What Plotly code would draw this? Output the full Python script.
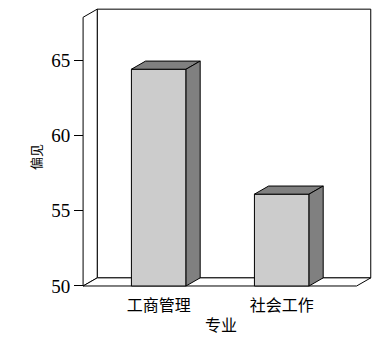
import plotly.graph_objects as go

categories = ["工商管理", "社会工作"]
values = [64.4, 56.1]
y_ticks = [50, 55, 60, 65]
y_title = "偏见"
x_title = "专业"

# 3D styling parameters (in data units)
base = 50.0
wall_top = 67.85
dx = 0.115
dy = 0.54
half_w = 0.222
x_left = -0.615
x_right_back = 1.7236

front_col = "#cccccc"
dark_col = "#808080"
edge = dict(color="black", width=1)

xs = list(range(len(categories)))

fig = go.Figure()

def poly(px, py, fill):
    fig.add_trace(go.Scatter(
        x=px + [px[0]], y=py + [py[0]], mode="lines", fill="toself",
        fillcolor=fill, line=edge, hoverinfo="skip", showlegend=False))

# back wall
poly([x_left + dx, x_right_back, x_right_back, x_left + dx],
     [base + dy, base + dy, wall_top + dy, wall_top + dy], "white")
# left wall
poly([x_left, x_left + dx, x_left + dx, x_left],
     [base, base + dy, wall_top + dy, wall_top], "white")
# floor
poly([x_left, x_left + dx, x_right_back, x_right_back - dx],
     [base, base + dy, base + dy, base], "white")

# bars: front, top and side faces
for c, v in zip(xs, values):
    l, r = c - half_w, c + half_w
    poly([l, r, r, l], [base, base, v, v], front_col)
    poly([l, l + dx, r + dx, r], [v, v + dy, v + dy, v], dark_col)
    poly([r, r + dx, r + dx, r], [base, base + dy, v + dy, v], dark_col)

x_range = [-0.64, 1.75]
y_range = [49.8, 68.6]
ypos = (x_left - x_range[0]) / (x_range[1] - x_range[0])

fig.update_layout(
    width=387, height=338,
    margin=dict(l=80.3, r=12.75, t=6, b=48.7),
    paper_bgcolor="white", plot_bgcolor="white",
    xaxis=dict(range=x_range, tickvals=xs, ticktext=categories,
               showgrid=False, zeroline=False, showline=False, ticks="",
               ticklabelstandoff=5,
               tickfont=dict(family="Noto Sans CJK SC", size=16, color="black")),
    yaxis=dict(range=y_range, tickvals=y_ticks, anchor="free", position=ypos,
               showgrid=False, zeroline=False, showline=False,
               ticks="outside", ticklen=9, tickwidth=1, tickcolor="black",
               tickfont=dict(family="Liberation Serif", size=19, color="black")),
    annotations=[
        dict(text=x_title, xref="paper", yref="paper",
             x=(221 - 80.3) / 294, y=(289.3 - 324.5) / 283.3,
             xanchor="center", yanchor="middle", showarrow=False,
             font=dict(family="Noto Sans CJK SC", size=16, color="black")),
        dict(text=y_title, xref="paper", yref="paper",
             x=(36 - 80.3) / 294, y=(289.3 - 157.5) / 283.3,
             xanchor="center", yanchor="middle", showarrow=False, textangle=-90,
             font=dict(family="Noto Sans CJK SC", size=13, color="black")),
    ],
)

fig.write_html("out.html", config={"displayModeBar": False})
